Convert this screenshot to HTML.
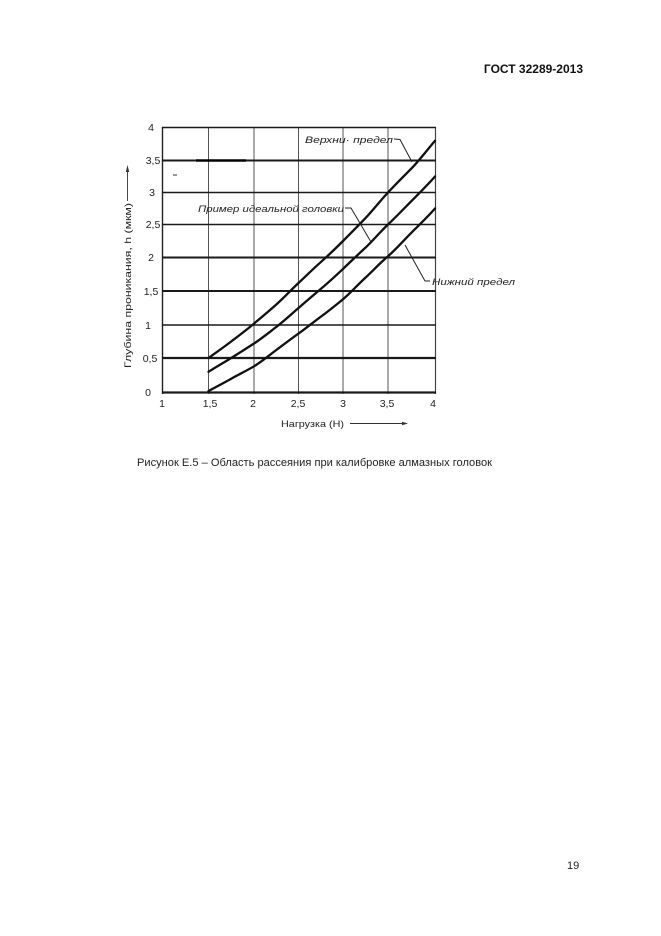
<!DOCTYPE html>
<html>
<head>
<meta charset="utf-8">
<style>
html,body{margin:0;padding:0;background:#fff;}
body{width:661px;height:936px;overflow:hidden;position:relative;}
svg{position:absolute;left:0;top:0;}
</style>
</head>
<body>
<svg width="661" height="936" viewBox="0 0 661 936" xmlns="http://www.w3.org/2000/svg">
  <rect x="0" y="0" width="661" height="936" fill="#ffffff"/>

  <!-- Header -->
  <text x="583" y="73" text-anchor="end" font-family="Liberation Sans, sans-serif" font-size="12" font-weight="bold" fill="#111">ГОСТ 32289-2013</text>

  <!-- Vertical grid lines -->
  <g stroke="#555" stroke-width="1">
    <line x1="208.5" y1="127.5" x2="208.5" y2="394"/>
    <line x1="254" y1="127.5" x2="254" y2="394"/>
    <line x1="298.5" y1="127.5" x2="298.5" y2="394"/>
    <line x1="343" y1="127.5" x2="343" y2="394"/>
    <line x1="388" y1="127.5" x2="388" y2="394"/>
  </g>
  <line x1="162.5" y1="127" x2="162.5" y2="394" stroke="#222" stroke-width="1.4"/>
  <line x1="435.5" y1="127" x2="435.5" y2="394" stroke="#444" stroke-width="1.2"/>

  <!-- Horizontal grid lines -->
  <g stroke="#1a1a1a">
    <line x1="162" y1="127.5" x2="436" y2="127.5" stroke-width="1.6"/>
    <line x1="162" y1="160.5" x2="436" y2="160.5" stroke-width="2"/>
    <line x1="162" y1="192.5" x2="436" y2="192.5" stroke-width="1.6"/>
    <line x1="162" y1="224.5" x2="436" y2="224.5" stroke-width="1.6"/>
    <line x1="162" y1="257.5" x2="436" y2="257.5" stroke-width="2"/>
    <line x1="162" y1="291" x2="436" y2="291" stroke-width="2"/>
    <line x1="162" y1="325" x2="436" y2="325" stroke-width="1.6"/>
    <line x1="162" y1="358" x2="436" y2="358" stroke-width="2.2"/>
    <line x1="162" y1="392.5" x2="436" y2="392.5" stroke-width="2.2"/>
  </g>
  <line x1="196" y1="160.5" x2="246" y2="160.5" stroke="#000" stroke-width="2.6"/>
  <line x1="173" y1="175" x2="177" y2="175" stroke="#333" stroke-width="1"/>

  <!-- Curves -->
  <g fill="none" stroke="#111" stroke-width="2.3" stroke-linejoin="round" stroke-linecap="round">
    <path d="M208.5,358 C216,352.5 224,347 231.2,341.5 S247,329.5 254,323.6 S269,311 276.2,304.6 S291,290 298.5,283 S313,269 320.7,262.2 S336,248 343,241 S358,226 365.5,218.1 S380,201 388,192.5 S404,176 411.7,168.2 S428,149 435,140.7"/>
    <path d="M208.5,371.8 C216,367 224,362.5 231.2,358 S247,348 254,343.5 S269,332.5 276.2,327 S291,314.5 298.5,308 S313,295.5 320.7,289 S336,275.5 343,268.9 S358,254.5 365.5,247.6 S380,232 388,224.5 S404,208.5 411.7,200.8 S428,184.5 435,176.5"/>
    <path d="M208.5,391.1 C216,387 224,382.8 231.2,378.7 S247,370.5 254,366.3 S269,355.5 276.2,350.1 S291,339 298.5,333.6 S313,322.5 320.7,316.8 S336,305 343,299.2 S358,284.5 365.5,277.6 S380,263 388,256.2 S404,240 411.7,232.4 S428,216.5 435,208.5"/>
  </g>

  <!-- Y tick labels -->
  <g font-family="Liberation Sans, sans-serif" font-size="10.5" fill="#222" text-anchor="middle">
    <text x="151" y="131">4</text>
    <text x="153" y="164">3,5</text>
    <text x="152" y="196">3</text>
    <text x="153" y="228">2,5</text>
    <text x="151" y="261">2</text>
    <text x="151" y="295">1,5</text>
    <text x="148" y="329">1</text>
    <text x="150" y="362">0,5</text>
    <text x="148" y="396">0</text>
  </g>

  <!-- X tick labels -->
  <g font-family="Liberation Sans, sans-serif" font-size="10.5" fill="#222" text-anchor="middle">
    <text x="162" y="407">1</text>
    <text x="210" y="407">1,5</text>
    <text x="253" y="407">2</text>
    <text x="298" y="407">2,5</text>
    <text x="343" y="407">3</text>
    <text x="387" y="407">3,5</text>
    <text x="433" y="407">4</text>
  </g>

  <!-- Axis titles -->
  <text x="281" y="427" font-family="Liberation Sans, sans-serif" font-size="9.5" fill="#222" textLength="63" lengthAdjust="spacingAndGlyphs">Нагрузка (Н)</text>
  <line x1="350" y1="423.5" x2="404" y2="423.5" stroke="#333" stroke-width="0.9"/>
  <polygon points="408,423.5 402,421.8 402,425.2" fill="#333"/>

  <text transform="translate(131,368) rotate(-90)" font-family="Liberation Sans, sans-serif" font-size="9.5" fill="#222" textLength="165" lengthAdjust="spacingAndGlyphs">Глубина проникания, h (мкм)</text>
  <line x1="127.5" y1="201" x2="127.5" y2="172" stroke="#333" stroke-width="0.9"/>
  <polygon points="127.5,165 125.8,172 129.2,172" fill="#333"/>

  <!-- Annotations -->
  <g font-family="Liberation Sans, sans-serif" font-style="italic" font-size="9" fill="#222">
    <text x="305" y="143" textLength="88" lengthAdjust="spacingAndGlyphs">Верхни· предел</text>
    <text x="198" y="212" textLength="146" lengthAdjust="spacingAndGlyphs">Пример идеальной головки</text>
    <text x="432" y="285" textLength="83" lengthAdjust="spacingAndGlyphs">Нижний предел</text>
  </g>
  <g fill="none" stroke="#222" stroke-width="1">
    <polyline points="394,139 400,139.5 412,162"/>
    <polyline points="345,208 351,208 371,242"/>
    <polyline points="430,281 425,281 405,245"/>
  </g>

  <!-- Caption -->
  <text x="137" y="466" font-family="Liberation Sans, sans-serif" font-size="11" fill="#222" textLength="355" lengthAdjust="spacingAndGlyphs">Рисунок Е.5 – Область рассеяния при калибровке алмазных головок</text>

  <!-- Page number -->
  <text x="567" y="869" font-family="Liberation Sans, sans-serif" font-size="11" fill="#222">19</text>
</svg>
</body>
</html>
